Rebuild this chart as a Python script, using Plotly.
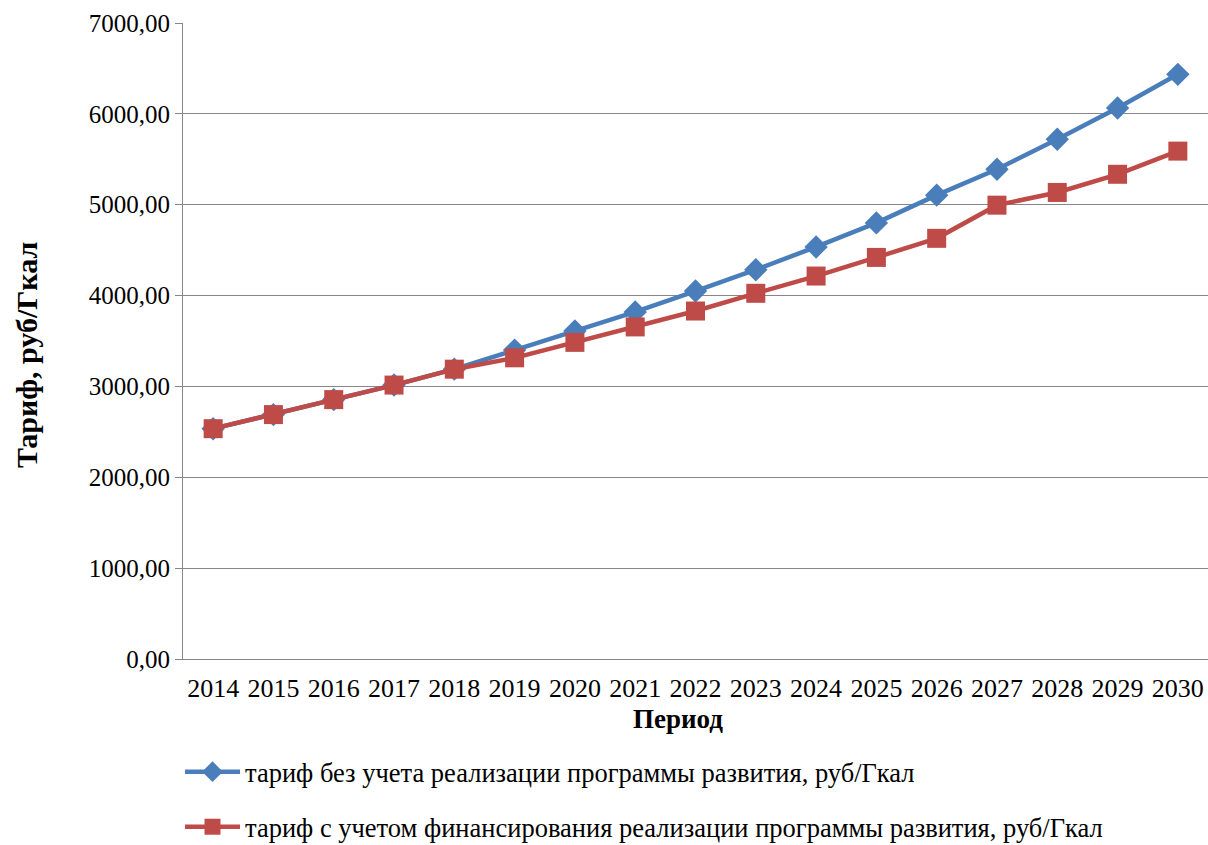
import plotly.graph_objects as go

years = [str(y) for y in range(2014, 2031)]
tariff_base = [2535, 2690, 2855, 3015, 3190, 3400, 3610, 3820, 4050, 4285,
               4535, 4800, 5105, 5390, 5720, 6065, 6435]
tariff_funded = [2535, 2690, 2855, 3015, 3190, 3315, 3485, 3655, 3830, 4025,
                 4215, 4420, 4630, 4995, 5135, 5335, 5590]
y_ticks = [0, 1000, 2000, 3000, 4000, 5000, 6000, 7000]
y_tick_labels = ["0,00", "1000,00", "2000,00", "3000,00", "4000,00",
                 "5000,00", "6000,00", "7000,00"]
name_base = "тариф без учета реализации программы развития, руб/Гкал"
name_funded = "тариф с учетом финансирования реализации программы развития, руб/Гкал"

BLUE = "#4A7EBB"
RED = "#BE4B48"
FONT = "Times New Roman, Liberation Serif, serif"
W, H = 1208, 845
ML, MR, MT, MB = 183, 0, 23, 186
PW, PH = W - ML - MR, H - MT - MB


def px_x(x):
    return (x - ML) / PW


def px_y(y):
    return (H - MB - y) / PH


fig = go.Figure()
fig.add_trace(go.Scatter(
    x=years, y=tariff_base, name=name_base, mode="lines+markers",
    line=dict(color=BLUE, width=4.5),
    marker=dict(symbol="diamond", size=18, color=BLUE),
    legend="legend", showlegend=True,
))
fig.add_trace(go.Scatter(
    x=years, y=tariff_funded, name=name_funded, mode="lines+markers",
    line=dict(color=RED, width=4.5),
    marker=dict(symbol="square", size=19, color=RED),
    legend="legend2", showlegend=True,
))

legend_common = dict(
    font=dict(family=FONT, size=26.5, color="#000000"),
    bgcolor="rgba(0,0,0,0)", xanchor="left", yanchor="middle",
    itemwidth=55,
)
fig.update_layout(
    width=W, height=H,
    margin=dict(l=ML, r=MR, t=MT, b=MB, autoexpand=False),
    paper_bgcolor="white", plot_bgcolor="white",
    showlegend=True,
    font=dict(family=FONT, size=25, color="#000000"),
    legend=dict(x=px_x(180), y=px_y(772), **legend_common),
    legend2=dict(x=px_x(180), y=px_y(827), **legend_common),
    xaxis=dict(
        type="category", range=[-0.5, 16.5],
        showline=True, linecolor="#868686", linewidth=1,
        ticks="outside", ticklen=6, tickcolor="rgba(0,0,0,0)", showgrid=False,
        tickfont=dict(family=FONT, size=26, color="#000000"),
        automargin=False,
    ),
    yaxis=dict(
        range=[0, 7000], tickvals=y_ticks, ticktext=y_tick_labels,
        showline=True, linecolor="#868686", linewidth=1,
        ticks="outside", ticklen=7, tickcolor="#868686",
        showgrid=True, gridcolor="#868686", gridwidth=1,
        zeroline=False, automargin=False,
        tickfont=dict(family=FONT, size=25, color="#000000"),
    ),
    annotations=[
        dict(text="<b>Период</b>", xref="paper", yref="paper",
             x=px_x(678), y=px_y(719), xanchor="center", yanchor="middle",
             showarrow=False,
             font=dict(family=FONT, size=27, color="#000000")),
        dict(text="<b>Тариф, руб/Гкал</b>", xref="paper", yref="paper",
             x=px_x(26), y=px_y(355), xanchor="center", yanchor="middle",
             showarrow=False, textangle=-90,
             font=dict(family=FONT, size=30, color="#000000")),
    ],
)

fig.write_html("out.html")
